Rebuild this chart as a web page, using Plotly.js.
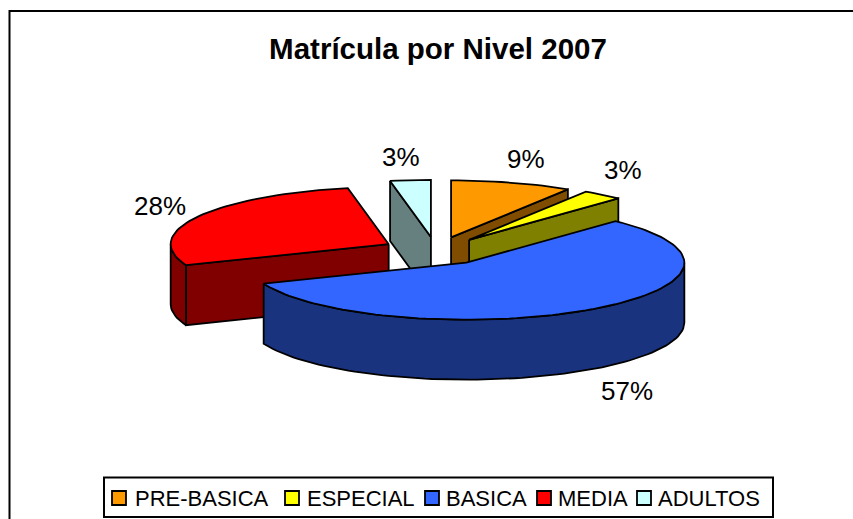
<!DOCTYPE html>
<html>
<head>
<meta charset="utf-8">
<script src="https://cdn.plot.ly/plotly-3.0.1.min.js"></script>
<style>html,body{margin:0;padding:0;background:#fff;overflow:hidden}#chart{width:853px;height:519px}</style>
</head>
<body>
<div id="chart"></div>
<script>
// Data
const categories = ["PRE-BASICA", "ESPECIAL", "BASICA", "MEDIA", "ADULTOS"];
const shares = [9, 3, 57, 28, 3];

// Styles
const topColors = ["#FF9900", "#FFFF00", "#3366FF", "#FF0000", "#CCFFFF"];
const sideColors = ["#804D00", "#808000", "#19337F", "#800000", "#668080"];
const paintOrder = [4, 3, 0, 1, 2];
const labelPos = [[526, 159], [623, 170], [627, 391], [160, 206], [401, 157]];
const legendBox = {x0: 104, x1: 773, y0: 477.5, y1: 517};
const legendSwatchX = [112, 285, 425, 537, 637];
const legendTextX = [133, 305, 444, 556, 656];

// 3D projection of the pie
const W = 853, H = 519;
const pie = {cx: 436, cy: 251, rx: 218, ry: 57, depth: 60, explode: 54};
const rad = d => d * Math.PI / 180;

const total = shares.reduce((a, b) => a + b, 0);
let acc = 0;
const slices = shares.map((v, i) => {
  const a0 = acc / total * 360;
  acc += v;
  const a1 = acc / total * 360;
  const mid = rad((a0 + a1) / 2);
  return {
    i, a0, a1,
    cx: pie.cx + pie.explode * Math.sin(mid),
    cy: pie.cy - pie.explode * Math.cos(mid) * pie.ry / pie.rx
  };
});

const rim = (s, a, dz) => [s.cx + pie.rx * Math.sin(rad(a)), s.cy - pie.ry * Math.cos(rad(a)) + (dz || 0)];
function arc(s, a0, a1, dz) {
  const out = [], n = Math.max(2, Math.ceil(Math.abs(a1 - a0) / 2));
  for (let k = 0; k <= n; k++) out.push(rim(s, a0 + (a1 - a0) * k / n, dz));
  return out;
}
function poly(pts, fill) {
  const c = pts.concat([pts[0]]);
  return {
    type: "scatter", mode: "lines", x: c.map(p => p[0]), y: c.map(p => p[1]),
    fill: "toself", fillcolor: fill, line: {color: "#000", width: 1.8},
    showlegend: false, hoverinfo: "skip"
  };
}

const traces = [];
paintOrder.forEach(idx => {
  const s = slices[idx], side = sideColors[idx];
  const apex = [s.cx, s.cy], apexB = [s.cx, s.cy + pie.depth];
  if (Math.sin(rad(s.a0)) < -1e-6) {
    traces.push(poly([apex, rim(s, s.a0), rim(s, s.a0, pie.depth), apexB], side));
  }
  if (Math.sin(rad(s.a1)) > 1e-6) {
    traces.push(poly([apex, rim(s, s.a1), rim(s, s.a1, pie.depth), apexB], side));
  }
  const w0 = Math.max(s.a0, 90), w1 = Math.min(s.a1, 270);
  if (w1 > w0) {
    traces.push(poly(arc(s, w0, w1, 0).concat(arc(s, w1, w0, pie.depth)), side));
  }
  traces.push(poly([apex].concat(arc(s, s.a0, s.a1, 0)), topColors[idx]));
});

const font = {family: "'Liberation Sans', Arial, sans-serif", color: "#000"};
const frame = {type: "line", xref: "x", yref: "y", line: {color: "#000", width: 2}};
const shapes = [
  Object.assign({}, frame, {x0: 9.5, y0: 11, x1: W, y1: 11}),
  Object.assign({}, frame, {x0: 9.5, y0: 10, x1: 9.5, y1: H}),
  {type: "rect", xref: "x", yref: "y", x0: legendBox.x0, x1: legendBox.x1, y0: legendBox.y0, y1: legendBox.y1,
   line: {color: "#000", width: 2}, fillcolor: "#fff"}
];
categories.forEach((c, i) => shapes.push({
  type: "rect", xref: "x", yref: "y", x0: legendSwatchX[i], x1: legendSwatchX[i] + 14, y0: 491, y1: 505,
  line: {color: "#000", width: 1.8}, fillcolor: topColors[i]
}));
const annotations = shares.map((v, i) => ({
  xref: "x", yref: "y", x: labelPos[i][0], y: labelPos[i][1], text: v + "%",
  showarrow: false, font: Object.assign({}, font, {size: 26})
})).concat(categories.map((c, i) => ({
  xref: "x", yref: "y", x: legendTextX[i], y: 498, xanchor: "left", text: c,
  showarrow: false, font: Object.assign({}, font, {size: 22})
})));

const layout = {
  width: W, height: H,
  margin: {l: 0, r: 0, t: 0, b: 0},
  paper_bgcolor: "#fff", plot_bgcolor: "#fff",
  font: font,
  title: {text: "<b>Matrícula por Nivel 2007</b>", x: 438 / W, xanchor: "center", y: 1 - 49 / H, yanchor: "middle",
          font: Object.assign({}, font, {size: 29.5})},
  xaxis: {range: [0, W], visible: false, fixedrange: true},
  yaxis: {range: [H, 0], visible: false, fixedrange: true},
  showlegend: false,
  shapes, annotations
};
Plotly.newPlot("chart", traces, layout, {displayModeBar: false, staticPlot: true});
</script>
</body>
</html>
